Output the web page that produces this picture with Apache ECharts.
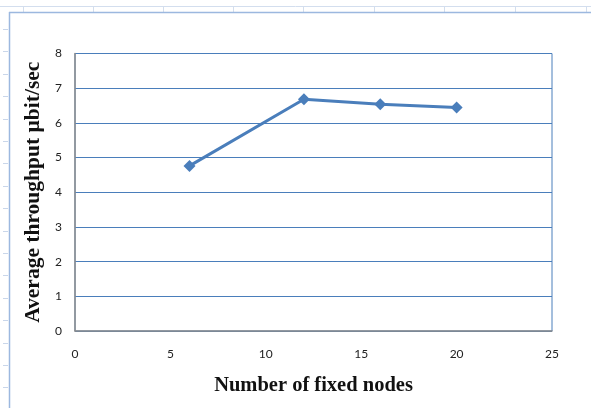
<!DOCTYPE html>
<html>
<head>
<meta charset="utf-8">
<script src="https://cdn.jsdelivr.net/npm/echarts@6/dist/echarts.min.js"></script>
<style>
  html, body { margin: 0; padding: 0; background: #ffffff; }
  #chart { width: 591px; height: 408px; }
</style>
</head>
<body>
<div id="chart"></div>
<script>
// Fixed-node counts and measured average throughput
const nodeCounts = [6, 12, 16, 20];
const throughput = [4.76, 6.68, 6.54, 6.44];

const xTicks = { min: 0, max: 25, step: 5 };
const yTicks = { min: 0, max: 8, step: 1 };

const blue = '#4A7EBB';
const axisGray = '#8C8C8C';
const sheetLine = '#D3DEEE';

// Worksheet cell lines around the chart frame
const sheetDecor = [];
sheetDecor.push({ type: 'line', shape: { x1: 0, y1: 6.5, x2: 591, y2: 6.5 }, style: { stroke: sheetLine, lineWidth: 1 }, silent: true });
[23, 93, 163, 233, 303, 374, 444, 515, 586].forEach(function (x) {
  sheetDecor.push({ type: 'line', shape: { x1: x + 0.5, y1: 6, x2: x + 0.5, y2: 12 }, style: { stroke: sheetLine, lineWidth: 1 }, silent: true });
});
for (let y = 29; y < 408; y += 22.4) {
  sheetDecor.push({ type: 'line', shape: { x1: 3, y1: Math.round(y) + 0.5, x2: 8, y2: Math.round(y) + 0.5 }, style: { stroke: '#C9D6EA', lineWidth: 1 }, silent: true });
}
// chart frame (top and left edges)
sheetDecor.push({ type: 'line', shape: { x1: 9, y1: 12.5, x2: 591, y2: 12.5 }, style: { stroke: '#9CB8DF', lineWidth: 1.5 }, silent: true });
sheetDecor.push({ type: 'line', shape: { x1: 9.5, y1: 12, x2: 9.5, y2: 408 }, style: { stroke: '#9CB8DF', lineWidth: 1.5 }, silent: true });

const chart = echarts.init(document.getElementById('chart'), null, { renderer: 'canvas' });
chart.setOption({
  animation: false,
  backgroundColor: '#ffffff',
  graphic: sheetDecor,
  grid: {
    left: 75, top: 53.5, right: 39, bottom: 77,
    show: true, borderColor: blue, borderWidth: 1, backgroundColor: 'transparent'
  },
  xAxis: {
    type: 'value',
    min: xTicks.min, max: xTicks.max, interval: xTicks.step,
    name: 'Number of fixed nodes',
    nameLocation: 'middle',
    nameGap: 44,
    nameTextStyle: { fontFamily: 'Liberation Serif', fontWeight: 'bold', fontSize: 20.5, color: '#111' },
    axisLine: { show: true, lineStyle: { color: axisGray, width: 1.5 } },
    axisTick: { show: false },
    axisLabel: { margin: 17, fontFamily: 'Lato', fontSize: 12, color: '#222' },
    splitLine: { show: false }
  },
  yAxis: {
    type: 'value',
    min: yTicks.min, max: yTicks.max, interval: yTicks.step,
    name: 'Average throughput µbit/sec',
    nameLocation: 'middle',
    nameGap: 29,
    nameTextStyle: { fontFamily: 'Liberation Serif', fontWeight: 'bold', fontSize: 21.5, color: '#111' },
    axisLine: { show: true, lineStyle: { color: axisGray, width: 1.5 } },
    axisTick: { show: false },
    axisLabel: { margin: 13, fontFamily: 'Lato', fontSize: 12, color: '#222' },
    splitLine: { show: true, lineStyle: { color: blue, width: 1 } }
  },
  series: [{
    type: 'line',
    data: nodeCounts.map(function (n, i) { return [n, throughput[i]]; }),
    symbol: 'diamond',
    symbolSize: 12,
    lineStyle: { color: blue, width: 3 },
    itemStyle: { color: blue },
    z: 5
  }]
});
</script>
</body>
</html>
